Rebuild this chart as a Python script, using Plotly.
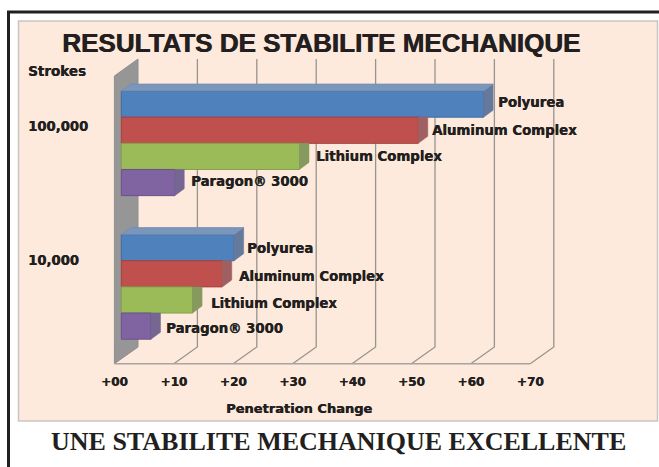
import plotly.graph_objects as go

# ---- data ----
groups = ["100,000", "10,000"]
series = ["Polyurea", "Aluminum Complex", "Lithium Complex", "Paragon® 3000"]
values_100k = [61, 50, 30, 9]
values_10k = [19, 17, 12, 5]
ticks = [0, 10, 20, 30, 40, 50, 60, 70]
tick_labels = ["+00", "+10", "+20", "+30", "+40", "+50", "+60", "+70"]
front = ["#4F81BD", "#C0504D", "#9BBB59", "#8064A2"]
edge = ["#3F6CA3", "#A5403E", "#83A048", "#6A5089"]
side = ["#64799B", "#A05F60", "#869A60", "#756692"]
top_face = "#7A96BA"

# ---- layout constants (pixels of the 659x467 canvas) ----
W, H = 659, 467
XS = 5.94            # px per value unit
X0_BAR = 121.3       # px of value 0 on the bar plane
X0_FLOOR = 114.4     # px of value 0 on the front floor
SLOT = 26.15         # px per bar
Y_SLOT0 = 104.1      # px of the first bar's centre
GROUP_START = [0.0, 5.49]
FLOOR_Y, BACK_FLOOR_Y, BACK_TOP_Y, WALL_TOP_Y = 363.7, 347.0, 59.0, 76.0
BACK_DX = 23.6
BAR_DX, BAR_DY = 9.5, 7.0
INK = "#231F20"
FAUX = "0.4px 0 0 #231F20"


def s(py):
    return (py - Y_SLOT0) / SLOT


fig = go.Figure()

# wall and gridlines live on the primary (lower) subplot
fig.add_trace(go.Scatter(
    x=[0, BACK_DX / XS, BACK_DX / XS, 0, 0],
    y=[s(FLOOR_Y), s(BACK_FLOOR_Y), s(BACK_TOP_Y), s(WALL_TOP_Y), s(FLOOR_Y)],
    mode="lines", fill="toself", fillcolor="#969696", line=dict(color="#8E8E8E", width=1),
    hoverinfo="skip", showlegend=False))
for t in ticks[1:]:
    fig.add_trace(go.Scatter(
        x=[t, t + BACK_DX / XS, t + BACK_DX / XS],
        y=[s(FLOOR_Y), s(BACK_FLOOR_Y), s(BACK_TOP_Y)],
        mode="lines", line=dict(color="#98948F", width=1.3),
        hoverinfo="skip", showlegend=False))
fig.add_trace(go.Scatter(
    x=[ticks[0], ticks[-1]], y=[s(FLOOR_Y), s(FLOOR_Y)],
    mode="lines", line=dict(color="#A8A4A0", width=1.5),
    hoverinfo="skip", showlegend=False))

# bars on the overlaying subplot
label_gap = [[12.7, 11.7, 14.7, 14.3], [10.7, 14.6, 16.3, 13.0]]
label_dy = [[-1.6, 0.1, 0.0, -1.5], [1.1, 2.3, 3.7, 2.0]]
annotations = []
dxv, dys = BAR_DX / XS, BAR_DY / SLOT
for g, vals in enumerate([values_100k, values_10k]):
    for i, v in enumerate(vals):
        yc = GROUP_START[g] + i
        fig.add_trace(go.Bar(
            x=[v], y=[yc], width=1.0, orientation="h", xaxis="x2", yaxis="y",
            marker=dict(color=front[i], line=dict(color=edge[i], width=1)),
            name=series[i], showlegend=False))
        upper = yc - 0.5 - (dys if i == 0 else 0)
        fig.add_trace(go.Scatter(
            x=[v, v + dxv, v + dxv, v, v],
            y=[yc - 0.5, upper, yc + 0.5 - dys, yc + 0.5, yc - 0.5],
            mode="lines", fill="toself", fillcolor=side[i],
            line=dict(color=side[i], width=0.5), xaxis="x2", yaxis="y",
            hoverinfo="skip", showlegend=False))
        if i == 0:
            fig.add_trace(go.Scatter(
                x=[0, dxv, v + dxv, v, 0],
                y=[yc - 0.5, yc - 0.5 - dys, yc - 0.5 - dys, yc - 0.5, yc - 0.5],
                mode="lines", fill="toself", fillcolor=top_face,
                line=dict(color="#6F8BB0", width=0.7), xaxis="x2", yaxis="y",
                hoverinfo="skip", showlegend=False))
        annotations.append(dict(
            x=v, y=yc, xref="x2", yref="y", text=series[i], showarrow=False,
            xanchor="left", yanchor="middle", xshift=label_gap[g][i], yshift=-label_dy[g][i],
            font=dict(family="DejaVu Sans", size=13.3, color=INK, weight="bold", shadow=FAUX)))


def px_text(x, y, text, size, family="DejaVu Sans", anchor="left", shadow=FAUX):
    return dict(x=x / W, y=1 - y / H, xref="paper", yref="paper", text=text, showarrow=False,
                xanchor=anchor, yanchor="middle",
                font=dict(family=family, size=size, color=INK, weight="bold", shadow=shadow))


annotations += [
    px_text(320.5, 43, "RESULTATS DE STABILITE MECHANIQUE", 26, "Liberation Sans", "center",
            "0.7px 0 0 #231F20"),
    px_text(25.5, 71, "Strokes", 13.5),
    px_text(25.5, 126, groups[0], 13.2),
    px_text(25.5, 260, groups[1], 13.2),
    px_text(298.5, 408.5, "Penetration Change", 13, anchor="center"),
    px_text(338.5, 441, "UNE STABILITE MECHANIQUE EXCELLENTE", 26, "Liberation Serif", "center", "none"),
]

shapes = [
    dict(type="rect", xref="paper", yref="paper", layer="below",
         x0=18.5 / W, x1=657.5 / W, y0=1 - 421 / H, y1=1 - 21 / H,
         fillcolor="#FDEADC", line=dict(color="#C9C5C1", width=1.5)),
    dict(type="line", xref="paper", yref="paper", layer="below",
         x0=8.5 / W, x1=8.5 / W, y0=0, y1=1 - 11 / H, line=dict(color=INK, width=3)),
    dict(type="line", xref="paper", yref="paper", layer="below",
         x0=7 / W, x1=1, y0=1 - 12 / H, y1=1 - 12 / H, line=dict(color=INK, width=3)),
]

fig.update_layout(
    width=W, height=H, autosize=False,
    margin=dict(l=0, r=0, t=0, b=0, pad=0),
    paper_bgcolor="white", plot_bgcolor="rgba(0,0,0,0)",
    barmode="overlay", showlegend=False,
    shapes=shapes, annotations=annotations,
    xaxis=dict(range=[-X0_FLOOR / XS, (W - X0_FLOOR) / XS], domain=[0, 1],
               tickmode="array", tickvals=ticks, ticktext=tick_labels,
               showgrid=False, zeroline=False, showline=False, ticks="",
               anchor="free", position=1 - 373 / H,
               tickfont=dict(family="DejaVu Sans", size=12, color=INK, weight="bold", shadow=FAUX)),
    xaxis2=dict(range=[-X0_BAR / XS, (W - X0_BAR) / XS], overlaying="x", domain=[0, 1],
                visible=False, anchor="y"),
    yaxis=dict(range=[(H - Y_SLOT0) / SLOT, -Y_SLOT0 / SLOT], domain=[0, 1],
               visible=False, fixedrange=True),
)

fig.write_html("out.html", config={"displayModeBar": False},
               post_script="document.body.style.margin='0';document.body.style.overflow='hidden';")
